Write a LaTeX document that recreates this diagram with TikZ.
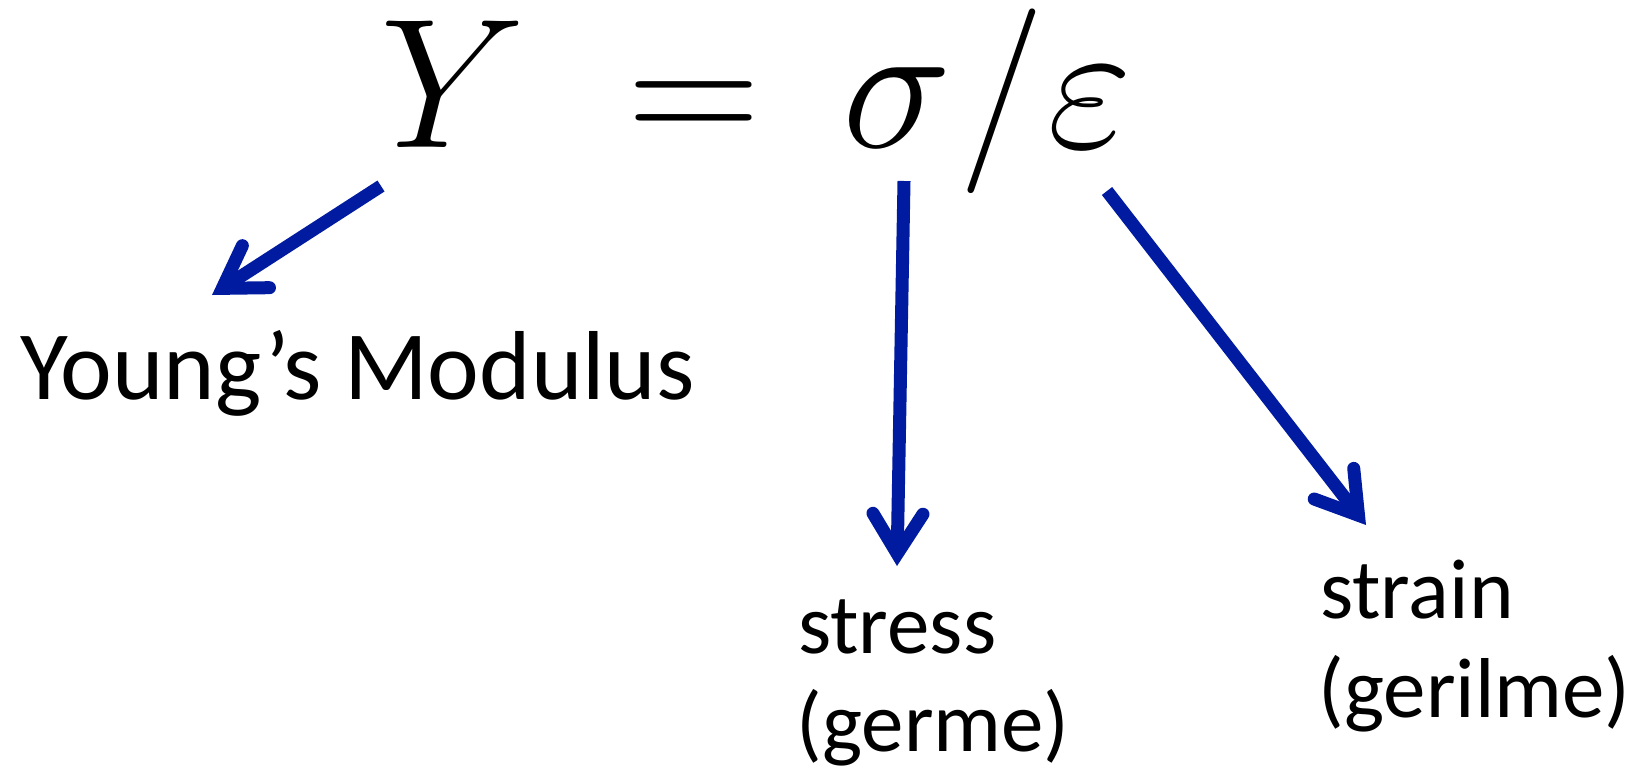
\RequirePackage{fix-cm}
\documentclass[tikz,border=0pt]{standalone}
\usepackage{fontspec}
\newfontfamily\labfont{Carlito}
\usetikzlibrary{arrows.meta}
\definecolor{arrowblue}{RGB}{0,27,160}
\tikzset{
  pointer/.style={draw=arrowblue, line width=13pt, line cap=butt,
    -{Straight Barb[length=40pt,width=50pt,line cap=round,line join=miter]}},
  biglabel/.style={inner sep=0pt, font=\labfont\fontsize{98}{120}\selectfont},
  smalllabel/.style={inner sep=0pt, font=\labfont\fontsize{85}{90}\selectfont},
  eqn/.style={inner sep=0pt, font=\fontsize{185}{185}\selectfont}
}
\begin{document}
\begin{tikzpicture}[x=1pt,y=-1pt]
\useasboundingbox (0,0) rectangle (1645,771);
\node[eqn, anchor=base west] (eq) at (380,147)
  {$Y\hspace{0.274em}=\hspace{0.166em}\sigma\hspace{0.036em}/\hspace{0.02em}\varepsilon$};
\node[biglabel, anchor=base west] (young) at (20,399) {Young’s Modulus};
\node[smalllabel, anchor=base west] (stress) at (798,653) {stress};
\node[smalllabel, anchor=base west] (germe) at (796,751) {(germe)};
\node[smalllabel, anchor=base west] (strain) at (1320,618) {strain};
\node[smalllabel, anchor=base west] (gerilme) at (1318,717) {(gerilme)};
\coordinate (ytail) at (381,186);
\coordinate (yhead) at (212,295);
\coordinate (stail) at (904,181);
\coordinate (shead) at (897,566);
\coordinate (etail) at (1107,191);
\coordinate (ehead) at (1366,525);
\draw[pointer] (ytail) -- (yhead);
\draw[pointer] (stail) -- (shead);
\draw[pointer] (etail) -- (ehead);
\end{tikzpicture}
\end{document}
